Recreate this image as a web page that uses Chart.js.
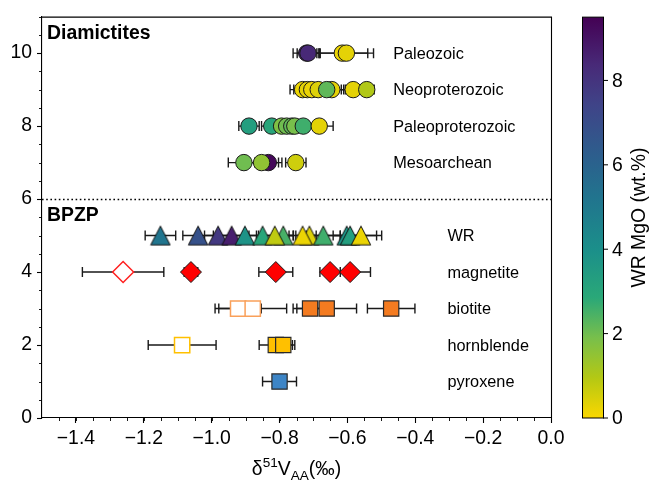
<!DOCTYPE html>
<html><head><meta charset="utf-8">
<script src="https://cdn.jsdelivr.net/npm/chart.js@4/dist/chart.umd.min.js"></script>
<style>html,body{margin:0;padding:0;background:#fff;}canvas{display:block;}</style>
</head><body>
<canvas id="c" width="650" height="483"></canvas>
<script>
// ---------------- data ----------------
const xTicks = [-1.4, -1.2, -1.0, -0.8, -0.6, -0.4, -0.2, 0.0];
const yTicks = [0, 2, 4, 6, 8, 10];
const cbTicks = [0, 2, 4, 6, 8];
const cbMax = 9.5;

const diamictiteLabels = ['Paleozoic', 'Neoproterozoic', 'Paleoproterozoic', 'Mesoarchean'];
const diamictiteRows = [10, 9, 8, 7];
const bpzpLabels = ['WR', 'magnetite', 'biotite', 'hornblende', 'pyroxene'];
const bpzpRows = [5, 4, 3, 2, 1];
const sectionLabels = ['Diamictites', 'BPZP'];

const paleozoicX   = [-0.720, -0.716, -0.615, -0.603];
const paleozoicErr = [0.040, 0.032, 0.075, 0.080];
const paleozoicMgO = [8.6, 8.4, 0.2, 0.3];

const neoproX   = [-0.732, -0.718, -0.705, -0.686, -0.646, -0.661, -0.583, -0.543];
const neoproErr = [0.037, 0.040, 0.040, 0.040, 0.040, 0.050, 0.035, 0.022];
const neoproMgO = [0.2, 0.3, 0.2, 0.4, 0.3, 2.2, 0.3, 1.0];

const paleoproX   = [-0.890, -0.823, -0.794, -0.779, -0.764, -0.755, -0.730, -0.683];
const paleoproErr = [0.030, 0.030, 0.040, 0.040, 0.040, 0.040, 0.040, 0.041];
const paleoproMgO = [3.3, 3.0, 1.8, 2.0, 2.2, 1.9, 2.6, 0.3];

const mesoX   = [-0.905, -0.833, -0.853, -0.752];
const mesoErr = [0.046, 0.040, 0.050, 0.030];
const mesoMgO = [2.0, 9.3, 1.5, 0.6];

const wrX   = [-1.151, -1.040, -0.981, -0.941, -0.902, -0.850, -0.789, -0.814, -0.712, -0.732, -0.671, -0.602, -0.592, -0.560];
const wrErr = [0.045, 0.045, 0.040, 0.040, 0.040, 0.040, 0.030, 0.054, 0.040, 0.040, 0.050, 0.040, 0.078, 0.061];
const wrMgO = [5.2, 6.8, 7.8, 8.7, 3.8, 3.0, 2.5, 0.8, 0.4, 0.2, 2.6, 3.8, 3.3, 0.2];

const magnetiteX   = [-1.061, -0.811, -0.651, -0.592];
const magnetiteErr = [0.020, 0.050, 0.030, 0.060];
const magnetiteOpenX   = [-1.261];
const magnetiteOpenErr = [0.120];

const biotiteX   = [-0.710, -0.661, -0.471];
const biotiteErr = [0.050, 0.088, 0.070];
const biotiteOpenX   = [-0.922, -0.879];
const biotiteOpenErr = [0.068, 0.100];

const hornblendeX   = [-0.811, -0.789];
const hornblendeErr = [0.049, 0.034];
const hornblendeOpenX   = [-1.087];
const hornblendeOpenErr = [0.100];

const pyroxeneX   = [-0.800];
const pyroxeneErr = [0.050];

// ---------------- styling helpers ----------------
const cmapStops = [[0,'#fad700'],[0.1,'#b4c814'],[0.2,'#78bf4b'],[0.3,'#2aa878'],[0.42,'#1b8f8a'],
  [0.55,'#21748e'],[0.65,'#2c5f8d'],[0.78,'#3f4488'],[0.88,'#482a78'],[1,'#440154']];
function hex2rgb(h){return [parseInt(h.slice(1,3),16),parseInt(h.slice(3,5),16),parseInt(h.slice(5,7),16)];}
function cmap(m){
  const t = Math.max(0, Math.min(1, m / cbMax));
  for (let i = 1; i < cmapStops.length; i++) {
    if (t <= cmapStops[i][0]) {
      const a = cmapStops[i-1], b = cmapStops[i];
      const f = (t - a[0]) / (b[0] - a[0]);
      const ca = hex2rgb(a[1]), cb = hex2rgb(b[1]);
      const c = ca.map((v,k)=>Math.round(v + (cb[k]-v)*f));
      return `rgb(${c[0]},${c[1]},${c[2]})`;
    }
  }
  return cmapStops[cmapStops.length-1][1];
}
function triImg(fill){
  const c = document.createElement('canvas'); c.width = 22; c.height = 22;
  const g = c.getContext('2d');
  g.beginPath(); g.moveTo(11, 1.5); g.lineTo(20.7, 20.3); g.lineTo(1.3, 20.3); g.closePath();
  g.fillStyle = fill; g.fill(); g.lineWidth = 1; g.strokeStyle = '#111'; g.stroke();
  return c;
}
const EDGE = '#1a1a1a';
function pts(xs, yv){ return xs.map(v => ({x: v, y: yv})); }
function circleSet(xs, errs, mgo, yv){
  return {data: pts(xs, yv), errX: errs, pointStyle: 'circle', pointRadius: 8.2,
    pointBackgroundColor: mgo.map(cmap), pointBorderColor: EDGE, pointBorderWidth: 1};
}
function markSet(xs, errs, yv, style, r, fill, edge, bw){
  return {data: pts(xs, yv), errX: errs, pointStyle: style, pointRadius: r,
    pointBackgroundColor: fill, pointBorderColor: edge, pointBorderWidth: bw};
}

const datasets = [
  circleSet(paleozoicX, paleozoicErr, paleozoicMgO, diamictiteRows[0]),
  circleSet(neoproX, neoproErr, neoproMgO, diamictiteRows[1]),
  circleSet(paleoproX, paleoproErr, paleoproMgO, diamictiteRows[2]),
  circleSet(mesoX, mesoErr, mesoMgO, diamictiteRows[3]),
  {data: pts(wrX, bpzpRows[0]), errX: wrErr, pointStyle: wrMgO.map(m => triImg(cmap(m))), pointRadius: 10},
  markSet(magnetiteX, magnetiteErr, bpzpRows[1], 'rectRot', 10.5, '#ff0000', EDGE, 1),
  markSet(magnetiteOpenX, magnetiteOpenErr, bpzpRows[1], 'rectRot', 10.5, '#ffffff', '#ff2020', 1.5),
  markSet(biotiteX, biotiteErr, bpzpRows[2], 'rect', 10.8, '#f47b20', '#2a2a2a', 1.2),
  markSet(biotiteOpenX, biotiteOpenErr, bpzpRows[2], 'rect', 10.8, '#ffffff', '#f9a05a', 1.5),
  markSet(hornblendeX, hornblendeErr, bpzpRows[3], 'rect', 10.8, '#ffc000', '#2a2a2a', 1.2),
  markSet(hornblendeOpenX, hornblendeOpenErr, bpzpRows[3], 'rect', 10.8, '#ffffff', '#ffc000', 1.5),
  markSet(pyroxeneX, pyroxeneErr, bpzpRows[4], 'rect', 10.8, '#3d85c6', '#2a2a2a', 1.2)
];
datasets.forEach((d, i) => { d.order = -i; });

const FONT = '"Liberation Sans", Arial, sans-serif';
Chart.defaults.font.family = FONT;
Chart.defaults.color = '#000';

const decor = {
  id: 'decor',
  beforeDatasetsDraw(chart){
    const {ctx, scales: {x, y}, chartArea: ca} = chart;
    ctx.save();
    ctx.strokeStyle = '#000'; ctx.lineWidth = 1.6; ctx.setLineDash([1.6, 2.6]);
    const ys = Math.round(y.getPixelForValue(6)) + 0.5;
    ctx.beginPath(); ctx.moveTo(ca.left, ys); ctx.lineTo(ca.right, ys); ctx.stroke();
    ctx.setLineDash([]);
    ctx.strokeStyle = '#1a1a1a'; ctx.lineWidth = 1.4;
    chart.data.datasets.forEach(ds => {
      ds.data.forEach((p, i) => {
        const e = ds.errX[i];
        const x0 = x.getPixelForValue(p.x - e), x1 = x.getPixelForValue(p.x + e);
        const yy = y.getPixelForValue(p.y);
        ctx.beginPath();
        ctx.moveTo(x0, yy); ctx.lineTo(x1, yy);
        ctx.moveTo(x0, yy - 5); ctx.lineTo(x0, yy + 5);
        ctx.moveTo(x1, yy - 5); ctx.lineTo(x1, yy + 5);
        ctx.stroke();
      });
    });
    ctx.restore();
  },
  afterDraw(chart){
    const {ctx, scales: {x, y}, chartArea: ca} = chart;
    ctx.save();
    ctx.strokeStyle = '#000'; ctx.lineWidth = 1.1;
    ctx.beginPath();
    ctx.moveTo(ca.left, ca.top + 0.5); ctx.lineTo(ca.right + 0.5, ca.top + 0.5); ctx.lineTo(ca.right + 0.5, ca.bottom);
    ctx.stroke();
    ctx.lineWidth = 0.9;
    ctx.beginPath();
    for (let v = -1.45; v < 0.001; v += 0.05) {
      const px = Math.round(x.getPixelForValue(v)) + 0.5;
      ctx.moveTo(px, ca.bottom); ctx.lineTo(px, ca.bottom + 3);
    }
    for (let v = 0.5; v < 11.01; v += 0.5) {
      const py = Math.round(y.getPixelForValue(v)) + 0.5;
      ctx.moveTo(ca.left, py); ctx.lineTo(ca.left - 3, py);
    }
    ctx.stroke();
    ctx.fillStyle = '#000';
    ctx.font = '16.3px ' + FONT; ctx.textAlign = 'left'; ctx.textBaseline = 'middle';
    diamictiteLabels.forEach((t, i) => ctx.fillText(t, x.getPixelForValue(-0.465), y.getPixelForValue(diamictiteRows[i]) + 1));
    bpzpLabels.forEach((t, i) => ctx.fillText(t, x.getPixelForValue(-0.305), y.getPixelForValue(bpzpRows[i]) + 1));
    ctx.font = 'bold 19.4px ' + FONT; ctx.textBaseline = 'alphabetic';
    ctx.fillText(sectionLabels[0], ca.left + 5, ca.top + 22);
    ctx.fillText(sectionLabels[1], ca.left + 5, y.getPixelForValue(6) + 22);
    const main = '19.4px ' + FONT, small = '13.6px ' + FONT;
    const parts = [['δ', main, 0], ['51', small, -8], ['V', main, 0], ['AA', small, 5], ['(‰)', main, 0]];
    let w = 0;
    parts.forEach(p => { ctx.font = p[1]; w += ctx.measureText(p[0]).width; });
    let cx = (ca.left + ca.right) / 2 - w / 2;
    const base = 475;
    ctx.textAlign = 'left';
    parts.forEach(p => { ctx.font = p[1]; ctx.fillText(p[0], cx, base + p[2]); cx += ctx.measureText(p[0]).width; });
    const cbL = 582, cbR = 603, top = ca.top + 0.5, bot = ca.bottom;
    const grad = ctx.createLinearGradient(0, bot, 0, top);
    cmapStops.forEach(s => grad.addColorStop(s[0], s[1]));
    ctx.fillStyle = grad; ctx.fillRect(cbL, top, cbR - cbL, bot - top);
    ctx.strokeStyle = '#000'; ctx.lineWidth = 1;
    ctx.strokeRect(cbL + 0.5, top, cbR - cbL, bot - top);
    ctx.fillStyle = '#000'; ctx.font = '19.4px ' + FONT; ctx.textAlign = 'left'; ctx.textBaseline = 'middle';
    ctx.beginPath();
    cbTicks.forEach(v => {
      const py = bot - v / cbMax * (bot - top);
      ctx.moveTo(cbR, py); ctx.lineTo(cbR + 5, py);
      ctx.fillText(String(v), cbR + 9, py + 1);
    });
    ctx.stroke();
    ctx.translate(640, (top + bot) / 2); ctx.rotate(-Math.PI / 2);
    ctx.textAlign = 'center'; ctx.textBaseline = 'middle';
    ctx.fillText('WR MgO (wt.%)', 0, 0);
    ctx.restore();
  }
};

new Chart(document.getElementById('c'), {
  type: 'scatter',
  data: {datasets},
  options: {
    responsive: false, animation: false, devicePixelRatio: 1,
    layout: {padding: {top: 11, right: 99, left: 0, bottom: 0}},
    plugins: {legend: {display: false}, tooltip: {enabled: false}},
    scales: {
      x: {type: 'linear', min: -1.5, max: 0,
        afterBuildTicks: s => { s.ticks = xTicks.map(v => ({value: v})); },
        afterFit: s => { s.height = 65; },
        ticks: {callback: v => (v < 0 ? '\u2212' : '') + Math.abs(v).toFixed(1), font: {size: 19.4}, color: '#000', padding: 4, maxRotation: 0, autoSkip: false},
        grid: {display: true, drawOnChartArea: false, drawTicks: true, tickLength: 5, tickWidth: 1.1, tickColor: '#000'},
        border: {display: true, color: '#000', width: 1.1}},
      y: {type: 'linear', min: 0, max: 11,
        afterBuildTicks: s => { s.ticks = yTicks.map(v => ({value: v})); },
        afterFit: s => { s.width = 42; },
        ticks: {callback: v => String(v), font: {size: 19.4}, color: '#000', padding: 5, autoSkip: false},
        grid: {display: true, drawOnChartArea: false, drawTicks: true, tickLength: 5, tickWidth: 1.1, tickColor: '#000'},
        border: {display: true, color: '#000', width: 1.1}}
    }
  },
  plugins: [decor]
});
</script>
</body></html>
